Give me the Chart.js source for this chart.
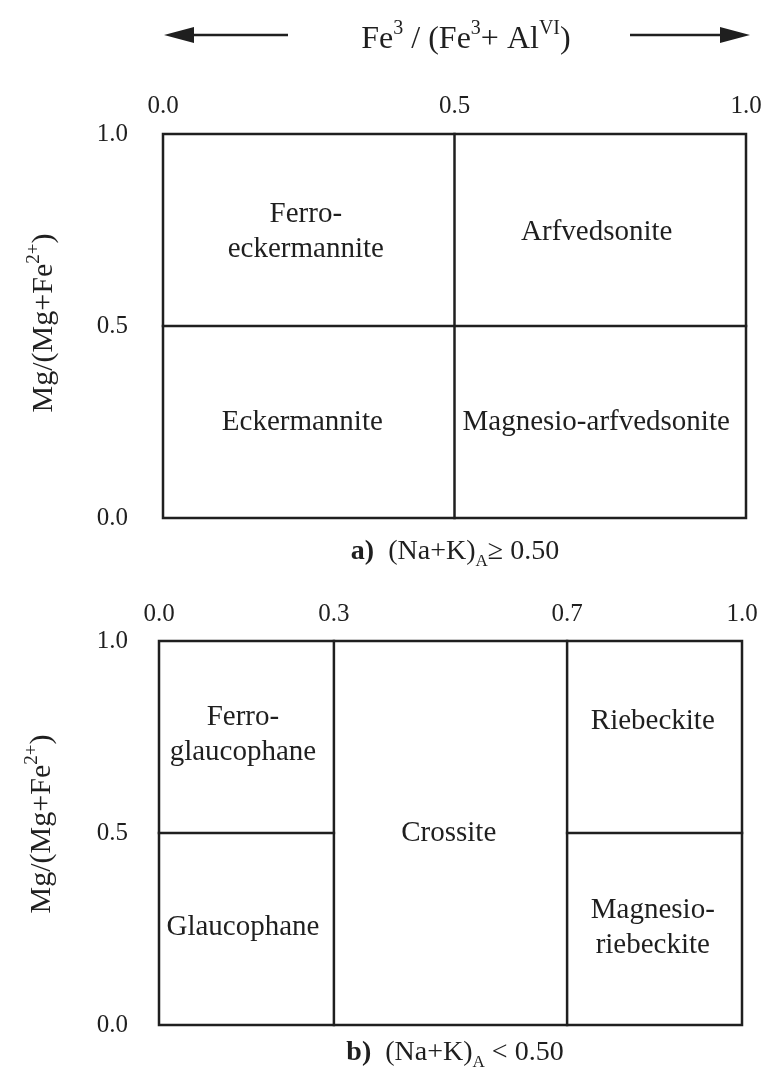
<!DOCTYPE html>
<html>
<head>
<meta charset="utf-8">
<script src="https://cdn.jsdelivr.net/npm/chart.js@4.4.1/dist/chart.umd.min.js"></script>
<style>
  body { margin: 0; background: #fff; }
  #wrap { position: relative; width: 767px; height: 1075px; }
  canvas { position: absolute; left: 0; }
</style>
</head>
<body>
<div id="wrap">
  <canvas id="chartA" width="767" height="580" style="top:0"></canvas>
  <canvas id="chartB" width="767" height="495" style="top:580px"></canvas>
</div>
<script>
// ---- data ----
const yTicks  = [0, 0.5, 1];
const xTicksA = [0, 0.5, 1];
const xTicksB = [0, 0.3, 0.7, 1];

// outer frame, same for both panels
const frameX = [0, 1, 1, 0, 0];
const frameY = [0, 0, 1, 1, 0];

// field boundaries, [x0, y0, x1, y1] per segment
const boundsA = [[0.5, 0, 0.5, 1], [0, 0.5, 1, 0.5]];
const boundsB = [[0.3, 0, 0.3, 1], [0.7, 0, 0.7, 1], [0, 0.5, 0.3, 0.5], [0.7, 0.5, 1, 0.5]];

// field names and where they sit (data units)
const namesA = [['Ferro-', 'eckermannite'], ['Arfvedsonite'], ['Eckermannite'], ['Magnesio-arfvedsonite']];
const nameXA = [0.245, 0.744, 0.239, 0.743];
const nameYA = [0.745, 0.745, 0.25, 0.25];

const namesB = [['Ferro-', 'glaucophane'], ['Glaucophane'], ['Crossite'], ['Riebeckite'], ['Magnesio-', 'riebeckite']];
const nameXB = [0.144, 0.144, 0.497, 0.847, 0.847];
const nameYB = [0.755, 0.255, 0.5, 0.79, 0.253];

const INK  = '#1f1f1f';
const FONT = '"Liberation Serif", "Times New Roman", serif';

Chart.defaults.font.family = FONT;
Chart.defaults.color = INK;

// ---- little rich-text helper (super/subscripts) ----
function fontFor(p, size) {
  const s = (p.sup || p.sub) ? Math.round(size * 0.62) : size;
  return `${p.bold ? 'bold ' : ''}${s}px ${FONT}`;
}

function drawRich(ctx, parts, cx, cy, size) {
  let w = 0;
  parts.forEach(p => { ctx.font = fontFor(p, size); w += ctx.measureText(p.t).width; });
  let x = cx - w / 2;
  const base = cy + size * 0.33;
  ctx.textAlign = 'left';
  ctx.textBaseline = 'alphabetic';
  parts.forEach(p => {
    ctx.font = fontFor(p, size);
    let y = base;
    if (p.sup) y -= size * 0.42;
    if (p.sub) y += size * 0.24;
    ctx.fillText(p.t, x, y);
    x += ctx.measureText(p.t).width;
  });
}

function arrow(ctx, x0, x1, y) {
  const dir = Math.sign(x1 - x0);
  const head = 30, half = 8;
  ctx.beginPath();
  ctx.moveTo(x0, y);
  ctx.lineTo(x1 - dir * head * 0.8, y);
  ctx.lineWidth = 2.5;
  ctx.strokeStyle = INK;
  ctx.stroke();
  ctx.beginPath();
  ctx.moveTo(x1, y);
  ctx.lineTo(x1 - dir * head, y - half);
  ctx.lineTo(x1 - dir * head, y + half);
  ctx.closePath();
  ctx.fillStyle = INK;
  ctx.fill();
}

const yTitleParts = [{ t: 'Mg/(Mg+Fe' }, { t: '2+', sup: true }, { t: ')' }];

function lineSets(bounds) {
  const sets = [frameX.map((x, i) => ({ x, y: frameY[i] }))];
  bounds.forEach(b => sets.push([{ x: b[0], y: b[1] }, { x: b[2], y: b[3] }]));
  return sets.map(data => ({
    data,
    showLine: true,
    borderColor: INK,
    borderWidth: 2.5,
    borderCapStyle: 'square',
    borderJoinStyle: 'miter',
    pointRadius: 0,
    clip: false,
  }));
}

function makePanel(id, opts) {
  const labels = {
    id: 'fieldLabels',
    afterDatasetsDraw(chart) {
      const { ctx, scales: { x, y } } = chart;
      ctx.save();
      ctx.fillStyle = INK;
      ctx.font = `29px ${FONT}`;
      ctx.textAlign = 'center';
      ctx.textBaseline = 'middle';
      opts.names.forEach((lines, i) => {
        const px = x.getPixelForValue(opts.nameX[i]);
        const py = y.getPixelForValue(opts.nameY[i]);
        const lh = 35;
        lines.forEach((ln, j) => {
          ctx.fillText(ln, px, py + (j - (lines.length - 1) / 2) * lh);
        });
      });
      ctx.restore();
    },
  };
  const deco = {
    id: 'deco',
    afterDraw(chart) {
      const ctx = chart.ctx;
      ctx.save();
      ctx.fillStyle = INK;
      opts.decorate(ctx, chart);
      ctx.restore();
    },
  };

  return new Chart(document.getElementById(id), {
    type: 'scatter',
    data: { datasets: lineSets(opts.bounds) },
    options: {
      responsive: false,
      animation: false,
      layout: { padding: opts.padding },
      plugins: { legend: { display: false }, tooltip: { enabled: false } },
      scales: {
        x: {
          type: 'linear',
          position: 'top',
          min: 0,
          max: 1,
          grid: { display: false, drawTicks: false },
          border: { display: false },
          afterBuildTicks: s => { s.ticks = opts.xTicks.map(v => ({ value: v })); },
          afterFit: s => {
            s.height = 44;
            // labels may hang over the frame; let the layout padding decide
            s.paddingLeft = 0;
            s.paddingRight = 0;
          },
          ticks: {
            padding: opts.xPad,
            maxRotation: 0,
            autoSkip: false,
            color: INK,
            font: { size: 25 },
            callback: v => v.toFixed(1),
          },
        },
        y: {
          type: 'linear',
          min: 0,
          max: 1,
          grid: { display: false, drawTicks: false },
          border: { display: false },
          afterBuildTicks: s => { s.ticks = yTicks.map(v => ({ value: v })); },
          afterFit: s => {
            s.width = opts.yWidth;
            s.paddingTop = 0;
            s.paddingBottom = 0;
          },
          ticks: {
            padding: opts.yPad,
            color: INK,
            font: { size: 25 },
            callback: v => v.toFixed(1),
          },
        },
      },
    },
    plugins: [labels, deco],
  });
}

// ---- panel a ----
makePanel('chartA', {
  bounds: boundsA,
  xTicks: xTicksA,
  names: namesA, nameX: nameXA, nameY: nameYA,
  padding: { top: 90, left: 0, right: 21, bottom: 62 },
  yWidth: 163, yPad: 35, xPad: 13,
  decorate(ctx) {
    drawRich(ctx, [
      { t: 'Fe' }, { t: '3', sup: true }, { t: ' / (Fe' }, { t: '3', sup: true },
      { t: '+ Al' }, { t: 'VI', sup: true }, { t: ')' },
    ], 466, 37, 32);
    arrow(ctx, 288, 164, 35);
    arrow(ctx, 630, 750, 35);

    ctx.translate(42, 323);
    ctx.rotate(-Math.PI / 2);
    drawRich(ctx, yTitleParts, 0, 0, 30);
    ctx.setTransform(1, 0, 0, 1, 0, 0);

    drawRich(ctx, [
      { t: 'a)', bold: true }, { t: '  (Na+K)' }, { t: 'A', sub: true }, { t: '\u2265 0.50' },
    ], 455, 550, 28);
  },
});

// ---- panel b ----
makePanel('chartB', {
  bounds: boundsB,
  xTicks: xTicksB,
  names: namesB, nameX: nameXB, nameY: nameYB,
  padding: { top: 17, left: 0, right: 25, bottom: 50 },
  yWidth: 159, yPad: 31, xPad: 12,
  decorate(ctx) {
    ctx.translate(40, 244);
    ctx.rotate(-Math.PI / 2);
    drawRich(ctx, yTitleParts, 0, 0, 30);
    ctx.setTransform(1, 0, 0, 1, 0, 0);

    drawRich(ctx, [
      { t: 'b)', bold: true }, { t: '  (Na+K)' }, { t: 'A', sub: true }, { t: ' < 0.50' },
    ], 455, 471, 28);
  },
});
</script>
</body>
</html>
